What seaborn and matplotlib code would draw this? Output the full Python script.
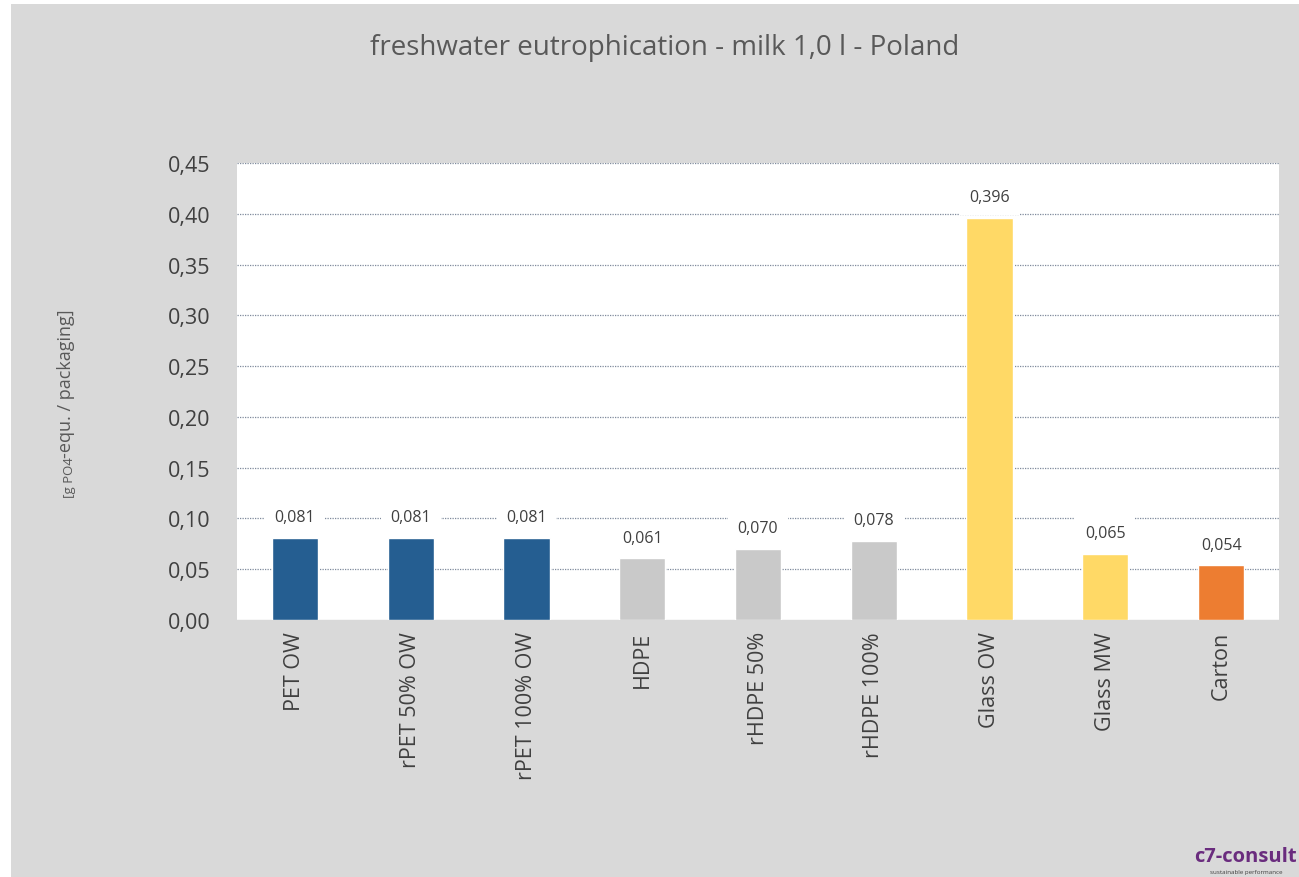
import numpy as np
import pandas as pd
import matplotlib
matplotlib.use("Agg")
import matplotlib.pyplot as plt
import seaborn as sns

# data
categories = ["PET OW", "rPET 50% OW", "rPET 100% OW", "HDPE", "rHDPE 50%",
              "rHDPE 100%", "Glass OW", "Glass MW", "Carton"]
values = [0.081, 0.081, 0.081, 0.061, 0.070, 0.078, 0.396, 0.065, 0.054]
bar_colors = ["#255E91", "#255E91", "#255E91", "#C9C9C9", "#C9C9C9",
              "#C9C9C9", "#FFD966", "#FFD966", "#ED7D31"]
y_ticks = [0.0, 0.05, 0.10, 0.15, 0.20, 0.25, 0.30, 0.35, 0.40, 0.45]

df = pd.DataFrame({"package": categories, "value": values})

sns.set_theme(style="white")
plt.rcParams["font.family"] = ["Open Sans", "DejaVu Sans"]

bg = "#D9D9D9"
txt = "#404040"

fig = plt.figure(figsize=(12.99, 8.78), dpi=100)
fig.patch.set_facecolor("white")
# gray panel (white strip on top and left like the reference)
fig.patches.append(plt.Rectangle((11 / 1299, 0), 1, 1 - 5 / 878,
                                 transform=fig.transFigure, facecolor=bg,
                                 edgecolor="none", zorder=-10))

ax = fig.add_axes([237 / 1299, 1 - 621 / 878, 1042 / 1299, 457 / 878])
ax.set_facecolor("white")

sns.barplot(data=df, x="package", y="value", hue="package",
            palette=dict(zip(categories, bar_colors)), width=0.4,
            legend=False, ax=ax, zorder=3, saturation=1)

ax.set_ylim(0, 0.45)
ax.set_yticks(y_ticks)
ax.set_yticklabels([f"{t:.2f}".replace(".", ",") for t in y_ticks],
                   fontsize=15.5, color=txt)
ax.set_xlim(-0.5, len(categories) - 0.5)
ax.set_xticks(range(len(categories)))
ax.set_xticklabels(categories, rotation=90, fontsize=15.5, color=txt)
ax.tick_params(axis="y", length=0, pad=19)
ax.tick_params(axis="x", length=0, pad=8)
ax.set_xlabel("")
ax.set_ylabel("")

for y in y_ticks[1:]:
    ax.axhline(y, color="#7F8A9C", lw=0.9, ls=(0, (1, 1)), zorder=1)

for s in ["top", "right", "left"]:
    ax.spines[s].set_visible(False)
ax.spines["bottom"].set_color("#D9D9D9")
ax.spines["bottom"].set_linewidth(1)

# value labels with white boxes
for i, v in enumerate(values):
    ax.annotate(f"{v:.3f}".replace(".", ","), (i, v), xytext=(0, 9),
                textcoords="offset points", ha="center", va="bottom",
                fontsize=11.5, color=txt, zorder=4,
                bbox=dict(boxstyle="square,pad=0.6", fc="white", ec="none"))

fig.text(665 / 1299, 1 - 48 / 878, "freshwater eutrophication - milk 1,0 l - Poland",
         ha="center", va="center", fontsize=20, color="#595959")

# y axis label: small "[g PO4" then larger "-equ. / packaging]"
fig.text(69 / 1299, 1 - 498 / 878, "[g PO4", rotation=90, ha="center",
         va="bottom", fontsize=9.5, color="#595959")
fig.text(66 / 1299, 1 - 458 / 878, "-equ. / packaging]", rotation=90,
         ha="center", va="bottom", fontsize=13, color="#595959")

# logo
fig.text(1297 / 1299, 1 - 857 / 878, "c7-consult", ha="right", va="center",
         fontsize=14.5, fontweight="bold", color="#6A2C7E")
fig.text(1282 / 1299, 1 - 873 / 878, "sustainable performance", ha="right",
         va="center", fontsize=4.5, color="#404040")

fig.savefig("out.png", dpi=100, facecolor=fig.get_facecolor())
